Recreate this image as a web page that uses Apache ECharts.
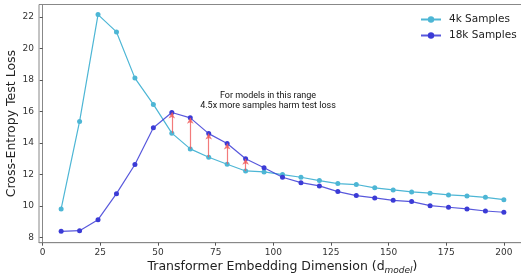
<!DOCTYPE html>
<html>
<head>
<meta charset="utf-8">
<script src="https://cdn.jsdelivr.net/npm/echarts@6/dist/echarts.min.js"></script>
<style>
  html, body { margin: 0; padding: 0; background: #fff; }
  #chart { width: 521px; height: 279px; }
</style>
</head>
<body>
<div id="chart"></div>
<script>
// embedding dimension d_model
const dims = [8, 16, 24, 32, 40, 48, 56, 64, 72, 80, 88, 96, 104, 112, 120, 128, 136, 144, 152, 160, 168, 176, 184, 192, 200]
const loss4k = [9.82, 15.37, 22.15, 21.05, 18.12, 16.45, 14.63, 13.63, 13.1, 12.66, 12.23, 12.17, 12.0, 11.83, 11.62, 11.43, 11.37, 11.16, 11.03, 10.9, 10.82, 10.71, 10.65, 10.56, 10.41]
const loss18k = [8.4, 8.44, 9.14, 10.79, 12.64, 14.97, 15.94, 15.6, 14.6, 13.97, 13.0, 12.43, 11.83, 11.49, 11.28, 10.92, 10.67, 10.52, 10.37, 10.29, 10.03, 9.93, 9.82, 9.69, 9.61]
// dims where the bigger dataset does worse
const harmDims = [56, 64, 72, 80, 88]
const xTicks = [0, 25, 50, 75, 100, 125, 150, 175, 200]
const yTicks = [8, 10, 12, 14, 16, 18, 20, 22]

const cyan = '#4db6d5'
const blue = '#3b3bd6'

const chart = echarts.init(document.getElementById('chart'))

const arrows = harmDims.map(d => {
  const i = dims.indexOf(d)
  return [{ coord: [d, loss4k[i]] }, { coord: [d, loss18k[i]] }]
})

const option = {
  animation: false,
  grid: {
    left: 39, top: 4.5, bottom: 36.3, right: -5,
    outerBoundsMode: 'none', containLabel: false,
    show: true, borderColor: '#888', borderWidth: 1
  },
  legend: {
    left: 415, top: 9, orient: 'vertical', itemGap: 5,
    itemWidth: 20, itemHeight: 8,
    textStyle: { fontFamily: 'DejaVu Sans', fontSize: 10.5, color: '#222', padding: [0, 0, 0, 3] },
    data: ['4k Samples', '18k Samples']
  },
  xAxis: {
    type: 'value', min: -1.6, max: 209.6,
    splitLine: { show: false },
    axisLine: { lineStyle: { color: '#888' } },
    axisTick: { customValues: xTicks, length: 3, lineStyle: { color: '#555' } },
    axisLabel: { customValues: xTicks, fontFamily: 'DejaVu Sans', fontSize: 9, color: '#333', margin: 5 },
    name: '{a|Transformer Embedding Dimension (d}{s|model}{a|)}',
    nameLocation: 'middle', nameGap: 17, nameMoveOverlap: false,
    nameTextStyle: {
      rich: {
        a: { fontFamily: 'DejaVu Sans', fontSize: 12.5, color: '#222' },
        s: { fontFamily: 'DejaVu Sans', fontStyle: 'italic', fontSize: 9, color: '#222', padding: [6, 0, 0, 0] }
      }
    }
  },
  yAxis: {
    type: 'value', min: 7.68, max: 22.79,
    splitLine: { show: false },
    axisLine: { show: true, lineStyle: { color: '#888' } },
    axisTick: { show: true, customValues: yTicks, length: 3, lineStyle: { color: '#555' } },
    axisLabel: { customValues: yTicks, fontFamily: 'DejaVu Sans', fontSize: 9, color: '#333', margin: 5 },
    name: 'Cross-Entropy Test Loss',
    nameLocation: 'middle', nameGap: 21, nameMoveOverlap: false,
    nameTextStyle: { fontFamily: 'DejaVu Sans', fontSize: 12.5, color: '#222' }
  },
  graphic: [
    {
      type: 'text', x: 268, y: 91,
      style: {
        text: 'For models in this range\n4.5x more samples harm test loss',
        align: 'center', lineHeight: 9.5,
        font: '9px Roboto', fill: '#111'
      }
    }
  ],
  series: [
    {
      name: '4k Samples', type: 'line',
      data: dims.map((d, i) => [d, loss4k[i]]),
      symbol: 'circle', symbolSize: 5,
      itemStyle: { color: cyan },
      lineStyle: { color: cyan, width: 1.2 },
      z: 3
    },
    {
      name: '18k Samples', type: 'line',
      data: dims.map((d, i) => [d, loss18k[i]]),
      symbol: 'circle', symbolSize: 5,
      itemStyle: { color: blue },
      lineStyle: { color: blue, width: 1.2, opacity: 0.85 },
      z: 4,
      markLine: {
        silent: true,
        symbol: ['none', 'arrow'], symbolSize: [5, 6],
        label: { show: false },
        lineStyle: { color: '#f05a5a', width: 1.2, type: 'solid', opacity: 0.8 },
        data: arrows
      }
    }
  ]
}

chart.setOption(option)
</script>
</body>
</html>
